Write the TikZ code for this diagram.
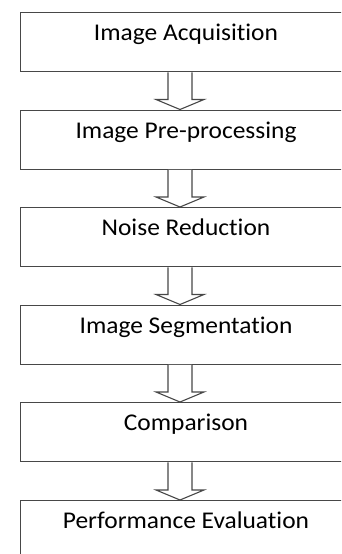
\documentclass[tikz,border=0pt]{standalone}
\usepackage{fontspec}
\setmainfont{Carlito}[Ligatures=NoCommon, FakeStretch=1.06]
\usetikzlibrary{calc}
\tikzset{
  stage/.style={draw=black!72, line width=1.4pt, minimum height=59pt,
    minimum width=340pt, anchor=north west, inner sep=0pt},
  stagetext/.style={font=\fontsize{24}{28}\selectfont, inner sep=0pt, anchor=base},
  hollow/.style={draw=black!72, line width=1.1pt, fill=white, line join=miter},
}
% hollow block arrow from the bottom of one stage to the top of the next
\newcommand\flowarrow[2]{%
  \draw[hollow] let \p1=(#1.south), \p2=(#2.north) in
    (168pt,\y1) -- (168pt,\y2+10pt) -- (156pt,\y2+10pt) -- (180pt,\y2)
    -- (204pt,\y2+10pt) -- (192pt,\y2+10pt) -- (192pt,\y1);}
\begin{document}
\begin{tikzpicture}
  \useasboundingbox (0,0) rectangle (341pt,-554pt);
  \clip (0,0) rectangle (341pt,-554pt);

  \node[stage] (b1) at (19.5pt,-12pt)  {};
  \node[stage] (b2) at (19.5pt,-109.5pt) {};
  \node[stage] (b3) at (19.5pt,-207pt) {};
  \node[stage] (b4) at (19.5pt,-304.5pt) {};
  \node[stage] (b5) at (19.5pt,-402pt) {};
  \node[stage] (b6) at (19.5pt,-500pt) {};

  \node[stagetext] (t1) at ($(b1.north west)+(166.5pt,-28.5pt)$) {Image Acquisition};
  \node[stagetext] (t2) at ($(b2.north west)+(166.5pt,-28.5pt)$) {Image Pre-processing};
  \node[stagetext] (t3) at ($(b3.north west)+(166.5pt,-28.5pt)$) {Noise Reduction};
  \node[stagetext] (t4) at ($(b4.north west)+(166.5pt,-28.5pt)$) {Image Segmentation};
  \node[stagetext] (t5) at ($(b5.north west)+(166.5pt,-28.5pt)$) {Comparison};
  \node[stagetext] (t6) at ($(b6.north west)+(166.5pt,-28.5pt)$) {Performance Evaluation};

  \flowarrow{b1}{b2}
  \flowarrow{b2}{b3}
  \flowarrow{b3}{b4}
  \flowarrow{b4}{b5}
  \flowarrow{b5}{b6}
\end{tikzpicture}
\end{document}
